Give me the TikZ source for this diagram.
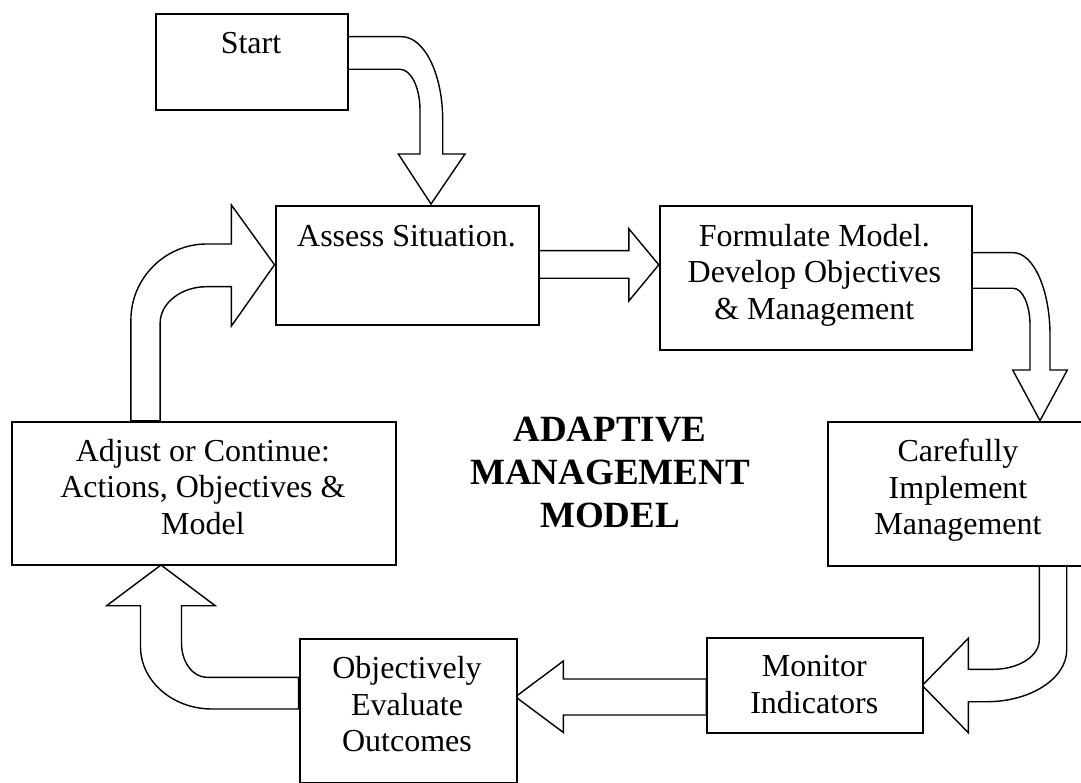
\documentclass[tikz,border=0pt]{standalone}
\usepackage{fontspec}
\setmainfont{Liberation Serif}
\begin{document}
\begin{tikzpicture}[x=1pt,y=-1pt,
  box/.style={draw, line width=2pt, fill=white, inner sep=0pt, anchor=north west},
  fat/.style={draw, line width=1.4pt, fill=white, line join=miter, miter limit=10},
  lbl/.style={font=\fontsize{32}{36.8}\selectfont, align=center, anchor=base, inner sep=0pt},
  ttl/.style={font=\fontsize{37}{42.7}\selectfont\bfseries, align=center, anchor=base, inner sep=0pt}]
\useasboundingbox (0,0) rectangle (1081,783);
\clip (0,0) rectangle (1081,783);
\fill[white] (0,0) rectangle (1081,783);

% fat arrows
% Start -> Assess
\path[fat] (346.8,36.7) -- (401.7,36.7) .. controls (424.3,36.7) and (442.7,74.2) .. (442.7,120)
  -- (442.7,154) -- (465,154) -- (431,204) -- (398.3,154) -- (420,154) -- (420,110)
  .. controls (420,87.6) and (411,69.3) .. (400,69.3) -- (346.8,69.3) -- cycle;
% Adjust -> Assess
\path[fat] (130.9,420.7) -- (130.9,320) .. controls (130.9,278.2) and (165,244) .. (206.6,244)
  -- (231.4,244) -- (231.4,205) -- (274.5,264.8) -- (231.4,326) -- (231.4,286.7) -- (206.6,286.7)
  .. controls (181,286.7) and (160.1,303.2) .. (160.1,323.3) -- (160.1,420.7) -- cycle;
% Assess -> Formulate
\path[fat] (538,250.7) -- (628.8,250.7) -- (628.8,228.7) -- (658.8,264.8) -- (628.8,301)
  -- (628.8,278.3) -- (538,278.3) -- cycle;
% Formulate -> Carefully
\path[fat] (970.7,252.7) -- (1013.3,252.7) .. controls (1033.5,252.7) and (1050,289.7) .. (1050,335)
  -- (1050,370) -- (1067.3,370) -- (1040,420.7) -- (1012.7,370) -- (1030,370) -- (1030,325)
  .. controls (1030,304.8) and (1022.5,288.3) .. (1013.3,288.3) -- (970.7,288.3) -- cycle;
% Carefully -> Monitor
\path[fat] (1039.3,565) -- (1039.3,640) .. controls (1039.3,656.1) and (1018.6,669.3) .. (993.3,669.3)
  -- (968.3,669.3) -- (968.3,638.3) -- (922.2,685.5) -- (968.3,732.7) -- (968.3,701.7) -- (986.7,701.7)
  .. controls (1030.7,701.7) and (1066.7,678.4) .. (1066.7,650) -- (1066.7,565) -- cycle;
% Monitor -> Evaluate
\path[fat] (706.3,679) -- (563.4,679) -- (563.4,661) -- (515.5,696.8) -- (563.4,732.5)
  -- (563.4,715) -- (706.3,715) -- cycle;
% Evaluate -> Adjust
\path[fat] (298.6,677.3) -- (206.6,677.3) .. controls (192.8,677.3) and (181.5,662) .. (181.5,643.3)
  -- (181.5,605.7) -- (215.2,605.7) -- (161,565) -- (106.7,605.7) -- (140.5,605.7) -- (140.5,646.7)
  .. controls (140.5,681) and (172.6,709) .. (211.8,709) -- (298.6,709) -- cycle;

% boxes
\node[box, minimum width=192.2pt, minimum height=96pt] (start) at (154.6,12.7) {};
\node[box, minimum width=263.5pt, minimum height=119.3pt] (assess) at (274.5,205) {};
\node[box, minimum width=311.9pt, minimum height=144pt] (formulate) at (658.8,205) {};
\node[box, minimum width=263pt, minimum height=144.3pt] (careful) at (826.5,420.7) {};
\node[box, minimum width=215.9pt, minimum height=95.6pt] (monitor) at (706.3,636.7) {};
\node[box, minimum width=216.9pt, minimum height=143.4pt] (evaluate) at (298.6,638.3) {};
\node[box, minimum width=384.3pt, minimum height=143.6pt] (adjust) at (10.7,420.7) {};

% texts (anchor base = baseline of the last line)
\node[lbl] (tstart) at (251,53.5) {Start};
\node[lbl] (tassess) at (406.5,246.7) {Assess Situation.};
\node[lbl] (tformulate) at (814.3,319.8) {Formulate Model.\\Develop Objectives\\\& Management};
\node[lbl] (tcareful) at (958,534.8) {Carefully\\Implement\\Management};
\node[lbl] (tmonitor) at (814.3,713.5) {Monitor\\Indicators};
\node[lbl] (tevaluate) at (407,751.8) {Objectively\\Evaluate\\Outcomes};
\node[lbl] (tadjust) at (202.9,534.6) {Adjust or Continue:\\Actions, Objectives \&\\Model};
\node[ttl] (title) at (610,527.1) {ADAPTIVE\\MANAGEMENT\\MODEL};
\end{tikzpicture}
\end{document}
